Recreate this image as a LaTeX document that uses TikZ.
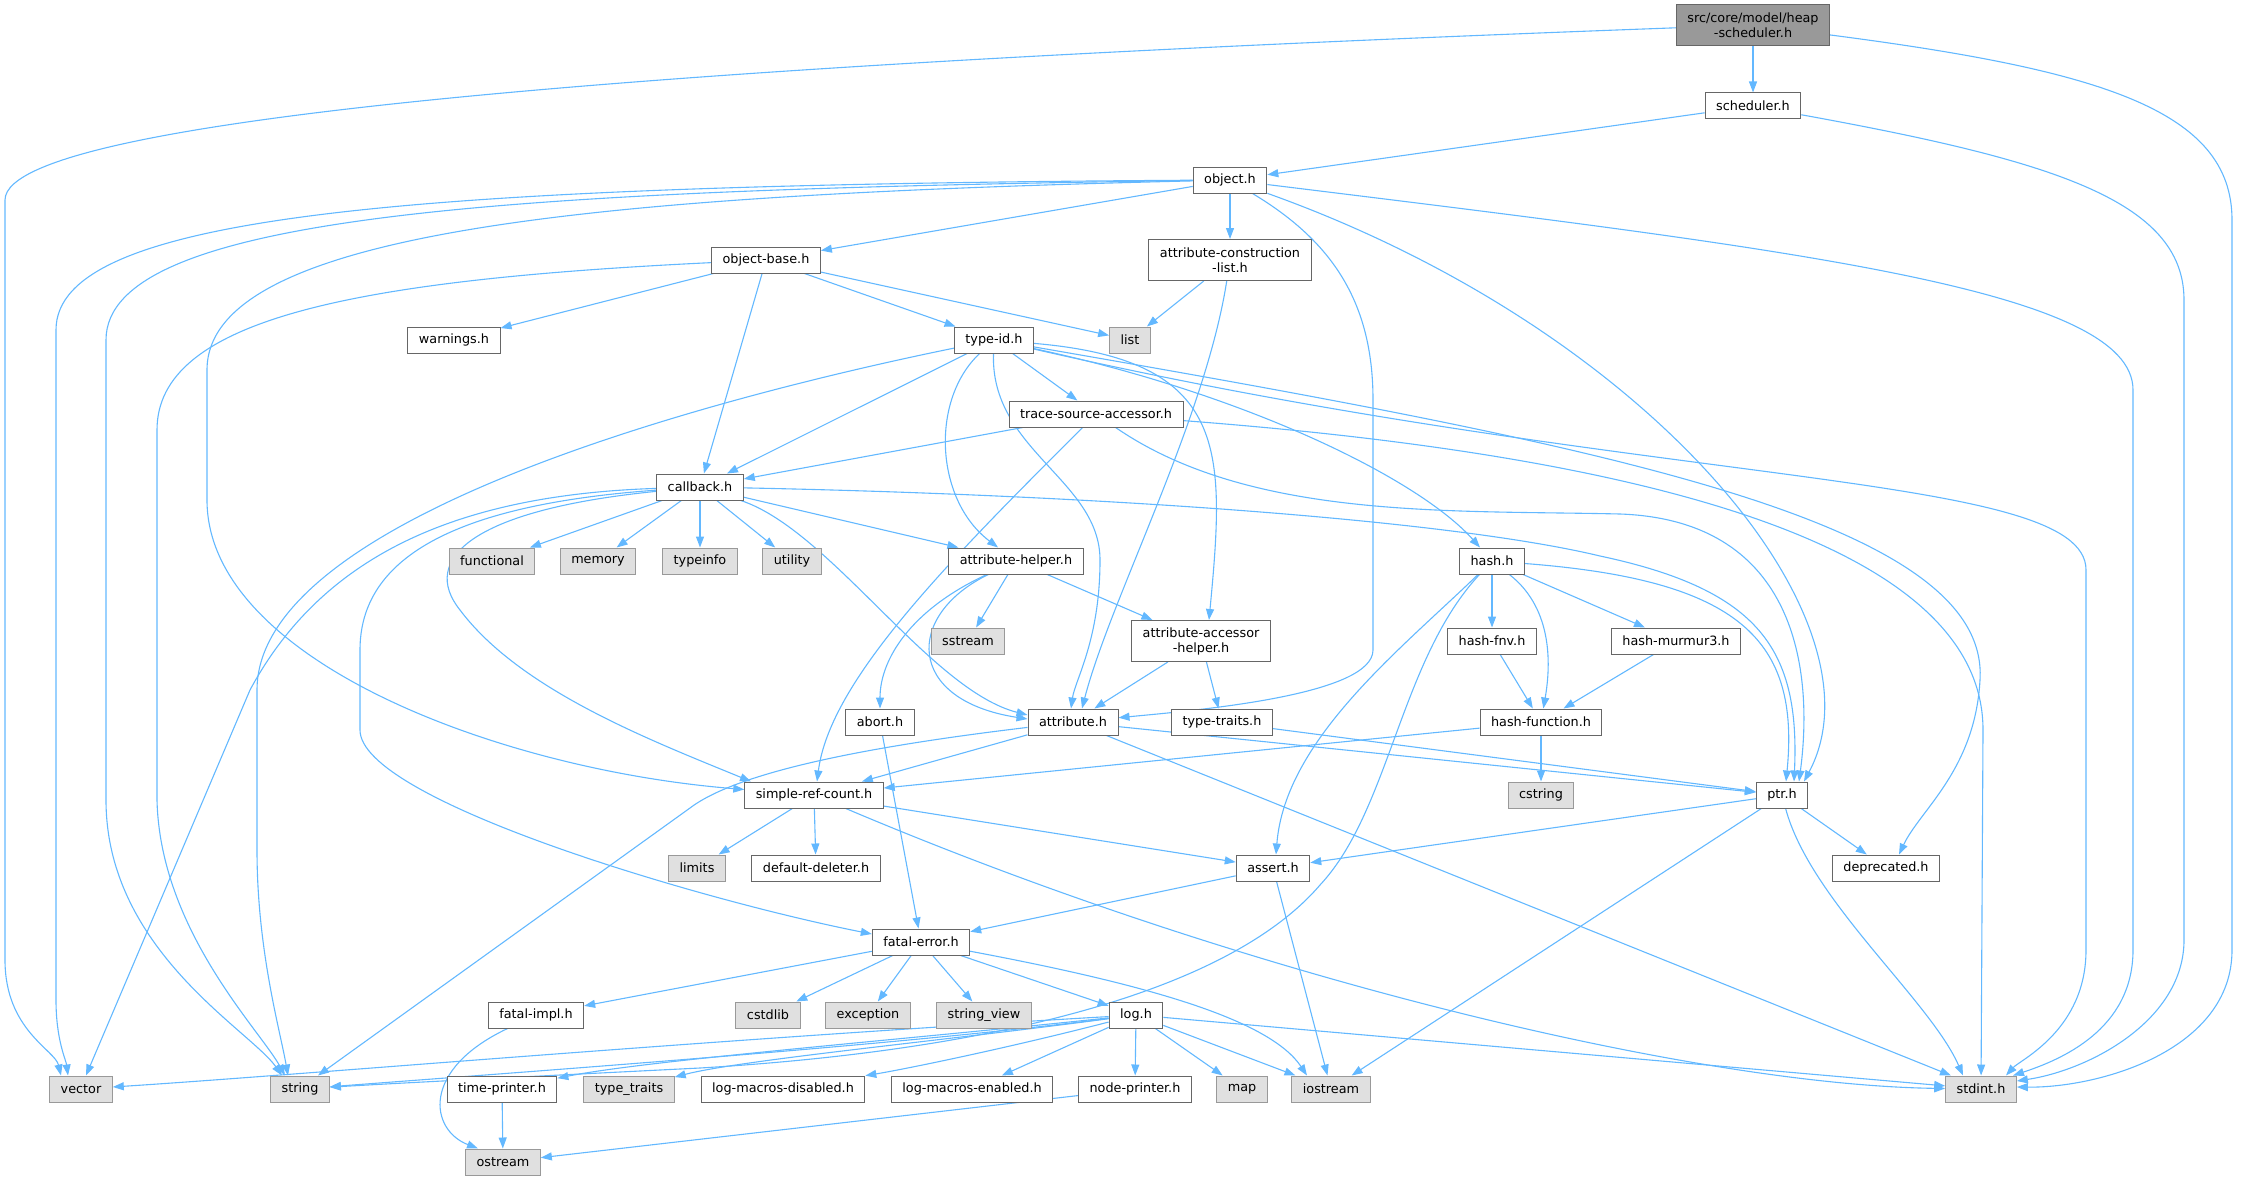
\documentclass[tikz,border=0pt]{standalone}
\usepackage{fontspec}
\setmainfont{DejaVu Sans}
\usetikzlibrary{arrows.meta,backgrounds}
\definecolor{edgeblue}{HTML}{63B8FF}
\definecolor{frame}{HTML}{666666}
\definecolor{sysframe}{HTML}{999999}
\definecolor{sysfill}{HTML}{E0E0E0}
\definecolor{rootfill}{HTML}{999999}

\begin{document}
\begin{tikzpicture}[x = 1pt, y = -1pt,
  hdr/.style = {draw = frame, fill = white, line width = 1pt, inner xsep = 11pt, inner ysep = 2pt, minimum height = 26pt, font = \fontsize{12.8}{15}\selectfont},
  hdrtwo/.style = {hdr, align = center, minimum height = 41pt},
  sys/.style = {hdr, draw = sysframe, fill = sysfill},
  rootfile/.style = {hdrtwo, fill = rootfill},
  incl/.style = {draw = edgeblue, line width = 1.1pt, -{Triangle[length = 11pt, width = 8pt]}}]
\useasboundingbox (0, 0) rectangle (2243, 1180);
\node [rootfile] (hs) at (1753, 25) {src/core/model/heap\\-scheduler.h};
\node [hdr] (sched) at (1753, 106) {scheduler.h};
\node [hdr] (obj) at (1230, 180) {object.h};
\node [hdr] (objbase) at (766, 260) {object-base.h};
\node [hdrtwo] (acl) at (1230, 260) {attribute-construction\\-list.h};
\node [hdr] (warn) at (454, 340) {warnings.h};
\node [hdr] (typeid) at (994, 340) {type-id.h};
\node [sys] (lst) at (1130, 340) {list};
\node [hdr] (tsa) at (1096, 414) {trace-source-accessor.h};
\node [hdr] (cb) at (700, 487) {callback.h};
\node [hdr] (hsh) at (1492, 561) {hash.h};
\node [sys] (func) at (492, 561) {functional};
\node [sys] (mem) at (598, 561) {memory};
\node [sys] (tinfo) at (700, 561) {typeinfo};
\node [sys] (util) at (792, 561) {utility};
\node [hdr] (ahelp) at (1016, 561) {attribute-helper.h};
\node [sys] (sstr) at (968, 641) {sstream};
\node [hdrtwo] (aah) at (1201, 641) {attribute-accessor\\-helper.h};
\node [hdr] (hfnv) at (1492, 641) {hash-fnv.h};
\node [hdr] (hmur) at (1676, 641) {hash-murmur3.h};
\node [hdr] (abrt) at (880, 722) {abort.h};
\node [hdr] (attr) at (1073, 722) {attribute.h};
\node [hdr] (ttraits) at (1222, 722) {type-traits.h};
\node [hdr] (hfunc) at (1541, 722) {hash-function.h};
\node [sys] (cstr) at (1541, 795) {cstring};
\node [hdr] (src) at (814, 795) {simple-ref-count.h};
\node [hdr] (ptr) at (1782, 795) {ptr.h};
\node [sys] (lim) at (697, 868) {limits};
\node [hdr] (deldef) at (816, 868) {default-deleter.h};
\node [hdr] (asrt) at (1273, 868) {assert.h};
\node [hdr] (depr) at (1886, 868) {deprecated.h};
\node [hdr] (ferr) at (921, 942) {fatal-error.h};
\node [hdr] (fimpl) at (536, 1015) {fatal-impl.h};
\node [sys] (cstd) at (768, 1015) {cstdlib};
\node [sys] (exc) at (868, 1015) {exception};
\node [sys] (sview) at (984, 1015) {string\_view};
\node [hdr] (logh) at (1136, 1015) {log.h};
\node [sys] (vec) at (81, 1089) {vector};
\node [sys] (str) at (300, 1089) {string};
\node [hdr] (tprint) at (502, 1089) {time-printer.h};
\node [sys] (tytr) at (629, 1089) {type\_traits};
\node [hdr] (lmdis) at (783, 1089) {log-macros-disabled.h};
\node [hdr] (lmen) at (972, 1089) {log-macros-enabled.h};
\node [hdr] (nprint) at (1135, 1089) {node-printer.h};
\node [sys] (mapn) at (1242, 1089) {map};
\node [sys] (ios) at (1331, 1089) {iostream};
\node [sys] (stdi) at (1981, 1089) {stdint.h};
\node [sys] (ostr) at (503, 1162) {ostream};

\begin{scope}[on background layer]
\draw [incl] (hs) -- (sched);
\draw [incl] (hs) .. controls (800, 60) and (5, 110) .. (5, 200) -- (5, 960) .. controls (5, 1030) and (55, 1050) .. ([xshift = -20pt]vec.north);
\draw [incl] (hs) .. controls (2100, 70) and (2232, 110) .. (2232, 220) -- (2232, 950) .. controls (2232, 1050) and (2100, 1088) .. ([yshift = 2pt]stdi.east);
\draw [incl] (sched) -- (obj);
\draw [incl] (sched) .. controls (2050, 160) and (2184, 200) .. (2184, 300) -- (2184, 940) .. controls (2184, 1020) and (2090, 1070) .. ([yshift = 8pt]stdi.east);

\draw [incl] (obj) -- (objbase);
\draw [incl] (obj) -- (acl);
\draw [incl] (obj) .. controls (400, 185) and (56, 215) .. (56, 330) -- (56, 1000) .. controls (56, 1040) and (66, 1060) .. ([xshift = -13pt]vec.north);
\draw [incl] (obj) .. controls (500, 190) and (106, 215) .. (106, 340) -- (106, 800) .. controls (106, 950) and (250, 1030) .. ([xshift = -18pt]str.north);
\draw [incl] (obj) .. controls (600, 195) and (207, 230) .. (207, 370) -- (207, 500) .. controls (207, 660) and (500, 770) .. (src);
\draw [incl] (obj) .. controls (1330, 240) and (1373, 300) .. (1373, 400) -- (1373, 650) .. controls (1373, 695) and (1200, 710) .. (attr);
\draw [incl] (obj) .. controls (1650, 330) and (1890, 620) .. ([xshift = 22pt]ptr.north);
\draw [incl] (obj) .. controls (1800, 250) and (2133, 290) .. (2133, 390) -- (2133, 950) .. controls (2133, 1030) and (2060, 1060) .. ([xshift = 32pt]stdi.north);

\draw [incl] (objbase) -- (warn);
\draw [incl] (objbase) -- (typeid);
\draw [incl] (objbase) -- (lst);
\draw [incl] (objbase) -- (cb);
\draw [incl] (objbase) .. controls (350, 280) and (157, 320) .. (157, 430) -- (157, 800) .. controls (160, 930) and (260, 1030) .. ([xshift = -15pt]str.north);
\draw [incl] (acl) -- (lst);
\draw [incl] (acl) .. controls (1205, 420) and (1110, 600) .. ([xshift = 9pt]attr.north);

\draw [incl] (typeid) -- (cb);
\draw [incl] (typeid) .. controls (700, 400) and (257, 520) .. (257, 690) -- (257, 850) .. controls (257, 950) and (280, 1030) .. ([xshift = -12pt]str.north);
\draw [incl] (typeid) .. controls (930, 400) and (935, 500) .. (ahelp);
\draw [incl] (typeid) .. controls (990, 450) and (1100, 480) .. (1100, 560) .. controls (1100, 640) and (1075, 680) .. ([xshift = -2pt]attr.north);
\draw [incl] (typeid) -- (tsa);
\draw [incl] (typeid) .. controls (1230, 360) and (1225, 450) .. ([xshift = 8pt]aah.north);
\draw [incl] (typeid) .. controls (1250, 395) and (1420, 480) .. (hsh);
\draw [incl] (typeid) .. controls (1600, 445) and (1990, 520) .. (1980, 680) .. controls (1975, 770) and (1920, 810) .. ([xshift = 13pt]depr.north);
\draw [incl] (typeid) .. controls (1650, 490) and (2086, 470) .. (2086, 570) -- (2086, 950) .. controls (2086, 1030) and (2020, 1060) .. ([xshift = 25pt]stdi.north);

\draw [incl] (tsa) -- (cb);
\draw [incl] (tsa) .. controls (950, 560) and (830, 680) .. ([xshift = 3pt]src.north);
\draw [incl] (tsa) .. controls (1250, 520) and (1450, 510) .. (1620, 514) .. controls (1790, 520) and (1815, 660) .. ([xshift = 17pt]ptr.north);
\draw [incl] (tsa) .. controls (1700, 460) and (1983, 560) .. (1983, 730) -- (stdi);

\draw [incl] (cb) -- (func);
\draw [incl] (cb) -- (mem);
\draw [incl] (cb) -- (tinfo);
\draw [incl] (cb) -- (util);
\draw [incl] (cb) -- (ahelp);
\draw [incl] (cb) .. controls (1100, 495) and (1450, 520) .. (1600, 556) .. controls (1760, 590) and (1800, 650) .. ([xshift = 12pt]ptr.north);
\draw [incl] (cb) .. controls (830, 530) and (930, 690) .. ([yshift = 7pt]attr.west);
\draw [incl] (cb) .. controls (450, 495) and (320, 560) .. (250, 690) -- ([xshift = 5pt]vec.north);
\draw [incl] (cb) .. controls (450, 505) and (360, 560) .. (360, 650) -- (360, 730) .. controls (360, 800) and (700, 900) .. ([yshift = 8pt]ferr.west);
\draw [incl] (cb) .. controls (470, 510) and (420, 560) .. (460, 610) .. controls (520, 690) and (650, 740) .. ([xshift = -63pt]src.north);

\draw [incl] (ahelp) -- (sstr);
\draw [incl] (ahelp) -- (aah);
\draw [incl] (ahelp) .. controls (910, 610) and (880, 660) .. (abrt);
\draw [incl] (ahelp) .. controls (905, 615) and (905, 700) .. ([yshift = 3pt]attr.west);
\draw [incl] (aah) -- (attr);
\draw [incl] (aah) -- (ttraits);
\draw [incl] (abrt) -- (ferr);

\draw [incl] (attr) .. controls (880, 745) and (740, 770) .. (690, 808) -- ([xshift = 18pt]str.north);
\draw [incl] (attr) -- (src);
\draw [incl] (attr) -- (ptr);
\draw [incl] (attr) -- ([xshift = -30pt]stdi.north);
\draw [incl] (ttraits) -- (ptr);

\draw [incl] (hsh) -- (hfnv);
\draw [incl] (hsh) -- (hmur);
\draw [incl] (hsh) .. controls (1555, 610) and (1550, 670) .. (hfunc);
\draw [incl] (hsh) .. controls (1400, 650) and (1285, 740) .. ([xshift = 3pt]asrt.north);
\draw [incl] (hsh) .. controls (1400, 660) and (1390, 810) .. (1320, 885) .. controls (1230, 990) and (1000, 1050) .. (700, 1068) .. controls (500, 1078) and (400, 1083) .. (str);
\draw [incl] (hsh) .. controls (1740, 580) and (1800, 640) .. ([xshift = 4pt]ptr.north);
\draw [incl] (hfnv) -- (hfunc);
\draw [incl] (hmur) -- (hfunc);
\draw [incl] (hfunc) -- (cstr);
\draw [incl] (hfunc) -- (src);

\draw [incl] (src) -- (lim);
\draw [incl] (src) -- (deldef);
\draw [incl] (src) -- (asrt);
\draw [incl] (src) .. controls (1250, 980) and (1700, 1085) .. (stdi);
\draw [incl] (ptr) -- (asrt);
\draw [incl] (ptr) -- (depr);
\draw [incl] (ptr) -- (ios);
\draw [incl] (ptr) .. controls (1810, 900) and (1930, 1000) .. ([xshift = -18pt]stdi.north);
\draw [incl] (asrt) -- (ferr);
\draw [incl] (asrt) -- (ios);

\draw [incl] (ferr) -- (fimpl);
\draw [incl] (ferr) -- (cstd);
\draw [incl] (ferr) -- (exc);
\draw [incl] (ferr) -- (sview);
\draw [incl] (ferr) -- (logh);
\draw [incl] (ferr) .. controls (1150, 985) and (1270, 1020) .. ([xshift = -24pt]ios.north);
\draw [incl] (fimpl) .. controls (420, 1070) and (430, 1130) .. ([xshift = -25pt]ostr.north);
\draw [incl] (tprint) -- (ostr);
\draw [incl] (nprint) -- (ostr);

\draw [incl] (logh) .. controls (700, 1040) and (300, 1075) .. (vec);
\draw [incl] (logh) .. controls (900, 1045) and (550, 1070) .. (str);
\draw [incl] (logh) .. controls (900, 1040) and (650, 1060) .. (tprint);
\draw [incl] (logh) .. controls (950, 1040) and (740, 1060) .. (tytr);
\draw [incl] (logh) .. controls (1000, 1050) and (900, 1070) .. (lmdis);
\draw [incl] (logh) -- (lmen);
\draw [incl] (logh) -- (nprint);
\draw [incl] (logh) -- (mapn);
\draw [incl] (logh) -- (ios);
\draw [incl] (logh) -- (stdi);
\end{scope}
\end{tikzpicture}
\end{document}
